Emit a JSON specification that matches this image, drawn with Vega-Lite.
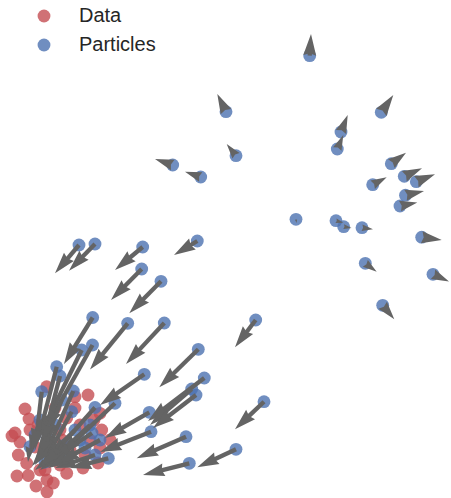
{
  "$schema": "https://vega.github.io/schema/vega-lite/v6.json",
  "width": 451,
  "height": 498,
  "autosize": {"type": "none"},
  "padding": 0,
  "background": "white",
  "config": {
    "view": {"stroke": null},
    "legend": {
      "orient": "none",
      "legendX": 34,
      "legendY": 6,
      "padding": 0,
      "title": null,
      "labelFont": "Liberation Sans",
      "labelFontSize": 20,
      "labelColor": "#262626",
      "labelOffset": 25,
      "rowPadding": 9,
      "symbolSize": 165,
      "symbolOpacity": 0.8,
      "symbolStrokeWidth": 0,
      "symbolType": "circle"
    }
  },
  "datasets": {
    "data": [
      {"x": 46.7, "y": 386.7}, {"x": 75, "y": 396.7}, {"x": 25, "y": 409}, {"x": 29, "y": 419},
      {"x": 15, "y": 433}, {"x": 20, "y": 442}, {"x": 18.3, "y": 455}, {"x": 17, "y": 476},
      {"x": 28.3, "y": 475.5}, {"x": 47, "y": 480}, {"x": 47, "y": 492}, {"x": 66.7, "y": 473.3},
      {"x": 83, "y": 468}, {"x": 101.7, "y": 430}, {"x": 100, "y": 448}, {"x": 98, "y": 463},
      {"x": 66.7, "y": 418}, {"x": 53.3, "y": 483}, {"x": 45, "y": 470}, {"x": 26.7, "y": 463.3},
      {"x": 100, "y": 413.3}, {"x": 88, "y": 395}, {"x": 55, "y": 408}, {"x": 38, "y": 425},
      {"x": 60, "y": 430}, {"x": 80, "y": 425}, {"x": 90, "y": 440}, {"x": 70, "y": 450},
      {"x": 50, "y": 452}, {"x": 35, "y": 447}, {"x": 85, "y": 455}, {"x": 40, "y": 470},
      {"x": 60, "y": 465}, {"x": 110, "y": 440}, {"x": 75, "y": 408}, {"x": 94, "y": 420},
      {"x": 30, "y": 430}, {"x": 62, "y": 440}, {"x": 12, "y": 436}, {"x": 36, "y": 486}
    ],
    "particles": [
      {"x": 309.7, "y": 55.7, "tx": 311, "ty": 34},
      {"x": 226, "y": 111.7, "tx": 217.3, "ty": 94},
      {"x": 381.3, "y": 112.3, "tx": 393.3, "ty": 95},
      {"x": 341, "y": 132, "tx": 347.7, "ty": 115},
      {"x": 337.3, "y": 149, "tx": 343.3, "ty": 135},
      {"x": 236, "y": 155.7, "tx": 226.7, "ty": 144},
      {"x": 172.7, "y": 165, "tx": 155, "ty": 159},
      {"x": 200.7, "y": 177, "tx": 185, "ty": 171.7},
      {"x": 391.3, "y": 163.7, "tx": 406, "ty": 152.7},
      {"x": 372.7, "y": 184.7, "tx": 386.7, "ty": 177.3},
      {"x": 404.3, "y": 176.3, "tx": 422, "ty": 168.3},
      {"x": 416.3, "y": 181.7, "tx": 435, "ty": 174.3},
      {"x": 405.5, "y": 195.2, "tx": 424, "ty": 191},
      {"x": 400, "y": 206, "tx": 417.3, "ty": 202.5},
      {"x": 296, "y": 219.3, "tx": 296.5, "ty": 223},
      {"x": 336, "y": 220.7, "tx": 343.3, "ty": 222.7},
      {"x": 343.7, "y": 226.7, "tx": 351.5, "ty": 228},
      {"x": 362, "y": 227.7, "tx": 373, "ty": 229.3},
      {"x": 421.7, "y": 237.2, "tx": 441.7, "ty": 240},
      {"x": 365.3, "y": 263.3, "tx": 376.7, "ty": 271.7},
      {"x": 433, "y": 274.3, "tx": 449, "ty": 281.5},
      {"x": 382.7, "y": 305.3, "tx": 394.3, "ty": 319.3},
      {"x": 197.3, "y": 241, "tx": 174, "ty": 255},
      {"x": 79, "y": 245, "tx": 55, "ty": 273.3},
      {"x": 95, "y": 244, "tx": 69, "ty": 270.7},
      {"x": 142.7, "y": 247, "tx": 115, "ty": 270},
      {"x": 141.7, "y": 269, "tx": 111, "ty": 300},
      {"x": 161, "y": 281.3, "tx": 129.3, "ty": 313.3},
      {"x": 92.7, "y": 317.5, "tx": 64, "ty": 364},
      {"x": 127.7, "y": 323.3, "tx": 90, "ty": 369.5},
      {"x": 164.3, "y": 323, "tx": 126, "ty": 364},
      {"x": 255.7, "y": 320, "tx": 235, "ty": 347.3},
      {"x": 198.3, "y": 349.3, "tx": 159.3, "ty": 387.3},
      {"x": 204.3, "y": 378, "tx": 148, "ty": 421},
      {"x": 191.7, "y": 389, "tx": 150, "ty": 425},
      {"x": 196, "y": 395, "tx": 153, "ty": 428},
      {"x": 144.3, "y": 374.3, "tx": 100, "ty": 405},
      {"x": 149.3, "y": 412.3, "tx": 105, "ty": 438},
      {"x": 151, "y": 431.7, "tx": 100, "ty": 452},
      {"x": 186, "y": 436.7, "tx": 136.7, "ty": 458.3},
      {"x": 189.3, "y": 463.3, "tx": 143, "ty": 475},
      {"x": 236, "y": 449.3, "tx": 197.3, "ty": 467.3},
      {"x": 264, "y": 401.7, "tx": 235, "ty": 429.3},
      {"x": 92.5, "y": 345, "tx": 45, "ty": 430},
      {"x": 81.7, "y": 350, "tx": 40, "ty": 435},
      {"x": 56.7, "y": 366.7, "tx": 38, "ty": 440},
      {"x": 60, "y": 376, "tx": 42, "ty": 445},
      {"x": 41.7, "y": 391.7, "tx": 35, "ty": 450},
      {"x": 73.3, "y": 391, "tx": 45, "ty": 455},
      {"x": 61.7, "y": 400, "tx": 40, "ty": 455},
      {"x": 71.7, "y": 411.7, "tx": 45, "ty": 460},
      {"x": 95, "y": 407.5, "tx": 50, "ty": 458},
      {"x": 115, "y": 403.3, "tx": 60, "ty": 455},
      {"x": 108.3, "y": 458.3, "tx": 70, "ty": 468},
      {"x": 35, "y": 435, "tx": 30, "ty": 455},
      {"x": 30, "y": 446.7, "tx": 28, "ty": 462},
      {"x": 50, "y": 440, "tx": 35, "ty": 465},
      {"x": 60, "y": 455, "tx": 40, "ty": 470},
      {"x": 45, "y": 462, "tx": 35, "ty": 470},
      {"x": 80, "y": 440, "tx": 45, "ty": 465},
      {"x": 90, "y": 425, "tx": 50, "ty": 462},
      {"x": 95, "y": 455, "tx": 55, "ty": 468},
      {"x": 40, "y": 420, "tx": 32, "ty": 450},
      {"x": 92, "y": 433, "tx": 52, "ty": 460},
      {"x": 55, "y": 425, "tx": 36, "ty": 458},
      {"x": 75, "y": 430, "tx": 42, "ty": 462},
      {"x": 65, "y": 445, "tx": 40, "ty": 466},
      {"x": 85, "y": 448, "tx": 48, "ty": 468},
      {"x": 45, "y": 450, "tx": 32, "ty": 466},
      {"x": 100, "y": 440, "tx": 58, "ty": 463}
    ]
  },
  "layer": [
    {
      "data": {"name": "data"},
      "mark": {"type": "circle", "opacity": 0.8, "size": 165},
      "encoding": {
        "x": {"field": "x", "type": "quantitative", "scale": {"domain": [0, 451], "nice": false, "zero": false}, "axis": null},
        "y": {"field": "y", "type": "quantitative", "scale": {"domain": [0, 498], "nice": false, "zero": false, "reverse": true}, "axis": null},
        "color": {"datum": "Data", "type": "nominal", "scale": {"domain": ["Data", "Particles"], "range": ["#C44E52", "#4C72B0"]}}
      }
    },
    {
      "data": {"name": "particles"},
      "mark": {"type": "circle", "opacity": 0.8, "size": 165},
      "encoding": {
        "x": {"field": "x", "type": "quantitative", "scale": {"domain": [0, 451], "nice": false, "zero": false}, "axis": null},
        "y": {"field": "y", "type": "quantitative", "scale": {"domain": [0, 498], "nice": false, "zero": false, "reverse": true}, "axis": null},
        "color": {"datum": "Particles", "type": "nominal"}
      }
    },
    {
      "data": {"name": "particles"},
      "transform": [
        {"calculate": "datum.tx - datum.x", "as": "u"},
        {"calculate": "datum.ty - datum.y", "as": "v"},
        {"calculate": "sqrt(datum.u * datum.u + datum.v * datum.v)", "as": "len"},
        {"calculate": "datum.len > 21.5 ? datum.x + datum.u * (datum.len - 18) / datum.len : datum.x", "as": "ex"},
        {"calculate": "datum.len > 21.5 ? datum.y + datum.v * (datum.len - 18) / datum.len : datum.y", "as": "ey"}
      ],
      "mark": {"type": "rule", "color": "#646464", "strokeWidth": 4.3, "strokeCap": "butt"},
      "encoding": {
        "x": {"field": "x", "type": "quantitative", "scale": {"domain": [0, 451], "nice": false, "zero": false}, "axis": null},
        "y": {"field": "y", "type": "quantitative", "scale": {"domain": [0, 498], "nice": false, "zero": false, "reverse": true}, "axis": null},
        "x2": {"field": "ex"},
        "y2": {"field": "ey"}
      }
    },
    {
      "data": {"name": "particles"},
      "transform": [
        {"calculate": "datum.tx - datum.x", "as": "u"},
        {"calculate": "datum.ty - datum.y", "as": "v"},
        {"calculate": "sqrt(datum.u * datum.u + datum.v * datum.v)", "as": "len"},
        {"calculate": "min(1, datum.len / 21.5)", "as": "hs"},
        {"calculate": "1849 * datum.hs * datum.hs", "as": "hsize"},
        {"calculate": "atan2(datum.u, -datum.v) * 180 / PI", "as": "ang"}
      ],
      "mark": {"type": "point", "shape": "M0,0 L0.3,1 L0,0.9 L-0.3,1 Z", "filled": true, "opacity": 1, "color": "#646464", "strokeWidth": 0},
      "encoding": {
        "x": {"field": "tx", "type": "quantitative", "scale": {"domain": [0, 451], "nice": false, "zero": false}, "axis": null},
        "y": {"field": "ty", "type": "quantitative", "scale": {"domain": [0, 498], "nice": false, "zero": false, "reverse": true}, "axis": null},
        "size": {"field": "hsize", "type": "quantitative", "scale": null, "legend": null},
        "angle": {"field": "ang", "type": "quantitative", "scale": null}
      }
    }
  ]
}
